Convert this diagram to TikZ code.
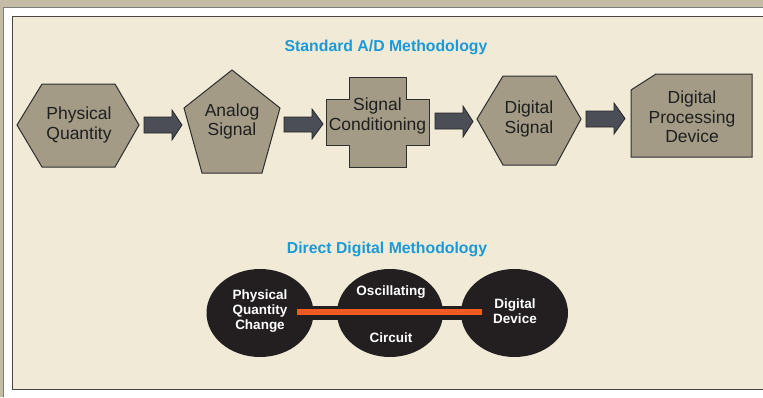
\documentclass[tikz,border=0pt]{standalone}
\usepackage{fontspec}
\setmainfont{Liberation Sans}
\usetikzlibrary{calc,shapes.geometric}
\definecolor{tanbg}{HTML}{C5BCA8}
\definecolor{panel}{HTML}{F0EAD7}
\definecolor{shapefill}{HTML}{A39B86}
\definecolor{shapeline}{HTML}{2E2E2E}
\definecolor{arrowfill}{HTML}{4B4E57}
\definecolor{ovalfill}{HTML}{231F20}
\definecolor{orangeline}{HTML}{F15A22}
\definecolor{titleblue}{HTML}{1A9AD7}
\definecolor{frameline}{HTML}{4A4742}
\tikzset{
  shapebox/.style={fill=shapefill, draw=shapeline, line width=1pt, line join=miter},
  blockarrow/.style={fill=arrowfill, draw=black!85, line width=0.8pt},
  shapetext/.style={align=center, text=black!88, font=\fontsize{17.5}{19.5}\selectfont, inner sep=0pt},
  titletext/.style={text=titleblue, font=\fontsize{15.8}{18}\selectfont\bfseries, inner sep=0pt},
  ovaltext/.style={align=center, text=white, font=\fontsize{13.5}{15}\selectfont\bfseries, inner sep=0pt},
  oval/.style={fill=ovalfill, draw=none, ellipse},
}
\begin{document}
\begin{tikzpicture}[x=1pt,y=-1pt]
\useasboundingbox (0,0) rectangle (763,397);
% frame
\fill[tanbg] (0,0) rectangle (763,397);
\fill[white] (3,7) rectangle (763,397);
\draw[frameline!70, line width=0.8pt] (3.4,397) -- (3.4,7.4) -- (763,7.4);
\fill[panel] (12,16) rectangle (763,390);
\draw[frameline, line width=1pt] (763,16.5) -- (12.5,16.5) -- (12.5,389.5) -- (763,389.5);

% titles
\node[titletext] (t1) at (386,47) {Standard A/D Methodology};
\node[titletext] (t2) at (387,249) {Direct Digital Methodology};

% hexagon 1
\draw[shapebox] (17,125) -- (42,84) -- (115,84) -- (139,125) -- (115,167) -- (42,167) -- cycle;
\node[shapetext] (pq) at (79,125) {Physical\\Quantity};
% pentagon
\draw[shapebox] (232,70) -- (280,108) -- (262,173) -- (202,173) -- (184,108) -- cycle;
\node[shapetext] (as) at (232,121.5) {Analog\\Signal};
% cross
\draw[shapebox] (349,77) -- (406,77) -- (406,99) -- (429,99) -- (429,145) -- (406,145) -- (406,167) -- (349,167) -- (349,145) -- (326,145) -- (326,99) -- (349,99) -- cycle;
\node[shapetext] (sc) at (377.5,116) {Signal\\Conditioning};
% hexagon 2
\draw[shapebox] (477,119) -- (503,76) -- (556,76) -- (581,119) -- (556,165) -- (503,165) -- cycle;
\node[shapetext] (ds) at (529,119) {Digital\\Signal};
% cut box
\draw[shapebox] (656,74) -- (752,74) -- (752,157) -- (631,157) -- (631,90) -- cycle;
\node[shapetext] (dp) at (692,117) {Digital\\Processing\\Device};

% block arrows
\draw[blockarrow] (144,117) -- (172,117) -- (172,110) -- (182,125) -- (172,140) -- (172,133) -- (144,133) -- cycle;
\draw[blockarrow] (284,117) -- (312,117) -- (312,109) -- (323,124) -- (312,139) -- (312,132) -- (284,132) -- cycle;
\draw[blockarrow] (435,113) -- (463,113) -- (463,106) -- (473,121.5) -- (463,137) -- (463,129) -- (435,129) -- cycle;
\draw[blockarrow] (586,111) -- (614,111) -- (614,103) -- (625,118.5) -- (614,134) -- (614,127) -- (586,127) -- cycle;

% direct digital
\fill[ovalfill] (300,306) rectangle (470,320);
\node[oval, minimum width=107pt, minimum height=88pt] (e1) at (260,313) {};
\node[oval, minimum width=106pt, minimum height=88pt] (e2) at (390,313) {};
\node[oval, minimum width=107pt, minimum height=88pt] (e3) at (514.5,313) {};
\coordinate (ls) at (297,312);
\coordinate (le) at (482,312);
\draw[orangeline, line width=6pt] (ls) -- (le);
\node[ovaltext] (pqc) at (260,311) {Physical\\Quantity\\Change};
\node[ovaltext] (osc) at (391,292) {Oscillating};
\node[ovaltext] (cir) at (391,338) {Circuit};
\node[ovaltext] (dd) at (515,311) {Digital\\Device};
\end{tikzpicture}
\end{document}
